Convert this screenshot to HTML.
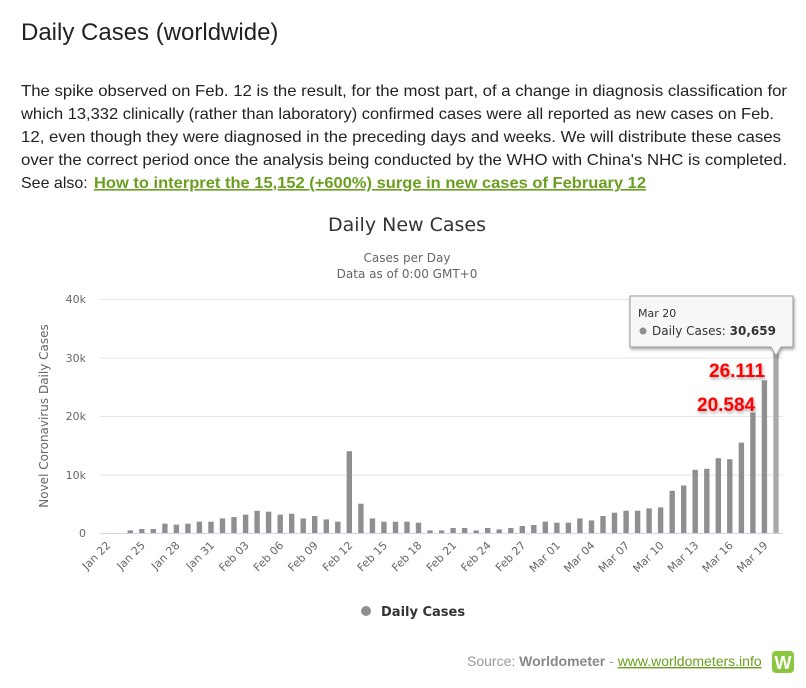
<!DOCTYPE html>
<html><head><meta charset="utf-8"><style>
body{margin:0;background:#fff;width:806px;height:688px;overflow:hidden}
svg{display:block}
</style></head><body>
<svg width="806" height="688" xmlns="http://www.w3.org/2000/svg" font-family="Liberation Sans, Arial, sans-serif">
<defs><filter id="sh" x="-20%" y="-20%" width="140%" height="160%"><feDropShadow dx="1" dy="2" stdDeviation="1.5" flood-color="#000" flood-opacity="0.35"/></filter></defs>
<text x="21" y="40" font-size="24" fill="#222">Daily Cases (worldwide)</text>
<g font-size="16" fill="#222">
<text x="21" y="96" textLength="766" lengthAdjust="spacingAndGlyphs">The spike observed on Feb. 12 is the result, for the most part, of a change in diagnosis classification for</text>
<text x="21" y="119" textLength="753" lengthAdjust="spacingAndGlyphs">which 13,332 clinically (rather than laboratory) confirmed cases were all reported as new cases on Feb.</text>
<text x="21" y="142" textLength="760" lengthAdjust="spacingAndGlyphs">12, even though they were diagnosed in the preceding days and weeks. We will distribute these cases</text>
<text x="21" y="165" textLength="766" lengthAdjust="spacingAndGlyphs">over the correct period once the analysis being conducted by the WHO with China's NHC is completed.</text>
<text x="21" y="188">See also: </text>
<text x="94" y="188" font-weight="bold" fill="#6a9e1f" text-decoration="underline" textLength="552" lengthAdjust="spacingAndGlyphs">How to interpret the 15,152 (+600%) surge in new cases of February 12</text>
</g>
<text x="407" y="231" font-size="19" fill="#333" text-anchor="middle" font-family="DejaVu Sans, sans-serif">Daily New Cases</text>
<text x="407" y="262" font-size="12" fill="#666" text-anchor="middle" font-family="DejaVu Sans, sans-serif">Cases per Day</text>
<text x="407" y="278" font-size="12" fill="#666" text-anchor="middle" font-family="DejaVu Sans, sans-serif">Data as of 0:00 GMT+0</text>
<g stroke="#e6e6e6" stroke-width="1">
<line x1="100" y1="299.5" x2="783" y2="299.5"/><line x1="100" y1="358" x2="783" y2="358"/><line x1="100" y1="416.5" x2="783" y2="416.5"/><line x1="100" y1="475" x2="783" y2="475"/>
</g>
<line x1="100" y1="533.5" x2="783" y2="533.5" stroke="#ccd6eb"/>
<g font-size="11" fill="#666" text-anchor="end" font-family="DejaVu Sans, sans-serif">
<text x="86" y="303">40k</text><text x="86" y="362">30k</text><text x="86" y="420">20k</text><text x="86" y="479">10k</text><text x="86" y="537">0</text>
</g>
<text transform="translate(48,416) rotate(-90)" font-size="12" fill="#666" text-anchor="middle" font-family="DejaVu Sans, sans-serif">Novel Coronavirus Daily Cases</text>
<g fill="#8f8f8f">
<rect x="127.6" y="530.4" width="5.4" height="2.6"/>
<rect x="139.1" y="529.0" width="5.4" height="4.0"/>
<rect x="150.6" y="529.0" width="5.4" height="4.0"/>
<rect x="162.2" y="523.7" width="5.4" height="9.3"/>
<rect x="173.7" y="524.7" width="5.4" height="8.3"/>
<rect x="185.2" y="523.7" width="5.4" height="9.3"/>
<rect x="196.7" y="521.7" width="5.4" height="11.3"/>
<rect x="208.3" y="521.7" width="5.4" height="11.3"/>
<rect x="219.8" y="518.4" width="5.4" height="14.6"/>
<rect x="231.3" y="517.0" width="5.4" height="16.0"/>
<rect x="242.9" y="514.7" width="5.4" height="18.3"/>
<rect x="254.4" y="510.8" width="5.4" height="22.2"/>
<rect x="265.9" y="511.7" width="5.4" height="21.3"/>
<rect x="277.5" y="514.7" width="5.4" height="18.3"/>
<rect x="289.0" y="513.7" width="5.4" height="19.3"/>
<rect x="300.5" y="518.4" width="5.4" height="14.6"/>
<rect x="312.0" y="516.0" width="5.4" height="17.0"/>
<rect x="323.6" y="519.4" width="5.4" height="13.6"/>
<rect x="335.1" y="521.7" width="5.4" height="11.3"/>
<rect x="346.6" y="451.2" width="5.4" height="81.8"/>
<rect x="358.2" y="503.7" width="5.4" height="29.3"/>
<rect x="369.7" y="518.4" width="5.4" height="14.6"/>
<rect x="381.2" y="521.7" width="5.4" height="11.3"/>
<rect x="392.8" y="521.7" width="5.4" height="11.3"/>
<rect x="404.3" y="521.7" width="5.4" height="11.3"/>
<rect x="415.8" y="522.7" width="5.4" height="10.3"/>
<rect x="427.3" y="530.4" width="5.4" height="2.6"/>
<rect x="438.9" y="530.4" width="5.4" height="2.6"/>
<rect x="450.4" y="528.0" width="5.4" height="5.0"/>
<rect x="461.9" y="528.0" width="5.4" height="5.0"/>
<rect x="473.5" y="530.4" width="5.4" height="2.6"/>
<rect x="485.0" y="528.0" width="5.4" height="5.0"/>
<rect x="496.5" y="529.4" width="5.4" height="3.6"/>
<rect x="508.1" y="528.0" width="5.4" height="5.0"/>
<rect x="519.6" y="526.0" width="5.4" height="7.0"/>
<rect x="531.1" y="525.0" width="5.4" height="8.0"/>
<rect x="542.6" y="521.7" width="5.4" height="11.3"/>
<rect x="554.2" y="522.7" width="5.4" height="10.3"/>
<rect x="565.7" y="522.7" width="5.4" height="10.3"/>
<rect x="577.2" y="518.4" width="5.4" height="14.6"/>
<rect x="588.8" y="520.4" width="5.4" height="12.6"/>
<rect x="600.3" y="516.0" width="5.4" height="17.0"/>
<rect x="611.8" y="512.7" width="5.4" height="20.3"/>
<rect x="623.4" y="510.7" width="5.4" height="22.3"/>
<rect x="634.9" y="510.7" width="5.4" height="22.3"/>
<rect x="646.4" y="508.4" width="5.4" height="24.6"/>
<rect x="657.9" y="507.4" width="5.4" height="25.6"/>
<rect x="669.5" y="490.8" width="5.4" height="42.2"/>
<rect x="681.0" y="485.5" width="5.4" height="47.5"/>
<rect x="692.5" y="469.8" width="5.4" height="63.2"/>
<rect x="704.1" y="468.8" width="5.4" height="64.2"/>
<rect x="715.6" y="458.2" width="5.4" height="74.8"/>
<rect x="727.1" y="459.2" width="5.4" height="73.8"/>
<rect x="738.7" y="442.6" width="5.4" height="90.4"/>
<rect x="750.2" y="412.6" width="5.4" height="120.4"/>
<rect x="761.7" y="380.3" width="5.4" height="152.7"/>
<rect x="773.3" y="353.6" width="5.4" height="179.4" fill="#aaa"/>
</g>
<g font-size="11" fill="#666" font-family="DejaVu Sans, sans-serif" text-anchor="end">
<text transform="translate(111.2,546) rotate(-45)">Jan 22</text>
<text transform="translate(145.8,546) rotate(-45)">Jan 25</text>
<text transform="translate(180.4,546) rotate(-45)">Jan 28</text>
<text transform="translate(215.0,546) rotate(-45)">Jan 31</text>
<text transform="translate(249.6,546) rotate(-45)">Feb 03</text>
<text transform="translate(284.2,546) rotate(-45)">Feb 06</text>
<text transform="translate(318.7,546) rotate(-45)">Feb 09</text>
<text transform="translate(353.3,546) rotate(-45)">Feb 12</text>
<text transform="translate(387.9,546) rotate(-45)">Feb 15</text>
<text transform="translate(422.5,546) rotate(-45)">Feb 18</text>
<text transform="translate(457.1,546) rotate(-45)">Feb 21</text>
<text transform="translate(491.7,546) rotate(-45)">Feb 24</text>
<text transform="translate(526.3,546) rotate(-45)">Feb 27</text>
<text transform="translate(560.9,546) rotate(-45)">Mar 01</text>
<text transform="translate(595.5,546) rotate(-45)">Mar 04</text>
<text transform="translate(630.1,546) rotate(-45)">Mar 07</text>
<text transform="translate(664.6,546) rotate(-45)">Mar 10</text>
<text transform="translate(699.2,546) rotate(-45)">Mar 13</text>
<text transform="translate(733.8,546) rotate(-45)">Mar 16</text>
<text transform="translate(768.4,546) rotate(-45)">Mar 19</text>
</g>
<path d="M630,296 h163 v51 h-12 l-5,9 l-5,-9 h-141 z" fill="#f7f7f7" stroke="#999" stroke-width="1" filter="url(#sh)"/>
<text x="638" y="317" font-size="11" fill="#333" font-family="DejaVu Sans, sans-serif">Mar 20</text>
<circle cx="643" cy="331" r="3.5" fill="#8f8f8f"/>
<text x="652" y="335" font-size="12" fill="#333" font-family="DejaVu Sans, sans-serif">Daily Cases: <tspan font-weight="bold">30,659</tspan></text>
<g font-size="19" font-weight="bold" fill="#f00" filter="url(#sh)">
<text x="709" y="377">26.111</text>
<text x="697" y="411">20.584</text>
</g>
<circle cx="366" cy="611" r="5" fill="#8f8f8f"/>
<text x="381" y="616" font-size="13" font-weight="bold" fill="#333" font-family="DejaVu Sans, sans-serif">Daily Cases</text>
<text x="467" y="666" font-size="14" fill="#999">Source: <tspan font-weight="bold" fill="#888">Worldometer</tspan> - <tspan fill="#6a9e1f" text-decoration="underline">www.worldometers.info</tspan></text>
<rect x="772" y="651" width="22" height="22" rx="4" fill="#8cc63f"/>
<text x="783" y="669" font-size="18" font-weight="bold" fill="#fff" text-anchor="middle">W</text>
</svg>
</body></html>
